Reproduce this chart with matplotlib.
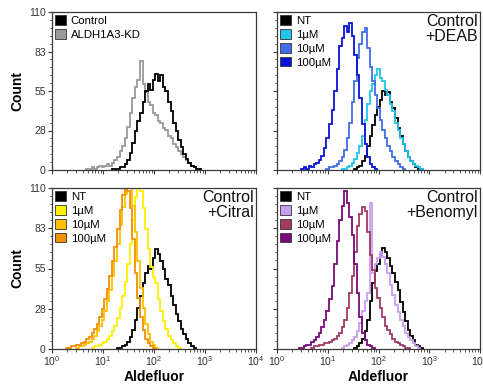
import numpy as np
import matplotlib
matplotlib.use("Agg")
import matplotlib.pyplot as plt
from matplotlib.patches import Patch
from matplotlib.ticker import FixedLocator, MultipleLocator, LogLocator, NullFormatter

plt.rcParams["font.family"] = ["Liberation Sans", "DejaVu Sans"]
plt.rcParams["mathtext.fontset"] = "custom"
plt.rcParams["mathtext.rm"] = "Liberation Sans"

# Histogram bins: width in log10 units; each series = first bin centre (log10) + counts
BIN = 0.05

# --- Panel A: Control vs ALDH1A3-KD ---
ctrl_start = 1.20
ctrl_counts = [1, 1, 1, 2, 2, 4, 7, 12, 19, 27, 34, 40, 47, 55, 60, 56, 63, 67, 62, 66,
               58, 55, 47, 41, 33, 27, 21, 16, 11, 8, 5, 3, 2, 1, 1]
kd_start = 0.70
kd_counts = [1, 1, 2, 1, 2, 3, 2, 3, 4, 3, 5, 7, 9, 13, 17, 22, 30, 40, 50, 58,
             63, 76, 60, 54, 47, 45, 40, 38, 34, 33, 29, 28, 24, 22, 18, 16, 13, 11, 9, 7,
             5, 3, 2, 1, 1]

# --- Panel B: DEAB ---
deab_nt_start = 1.55
deab_nt_counts = [1, 2, 3, 6, 10, 17, 24, 31, 38, 44, 49, 55, 52, 54, 47, 43, 36, 29, 24, 18,
                  13, 9, 6, 4, 2, 1, 1]
deab_1_start = 1.30
deab_1_counts = [1, 1, 2, 3, 5, 8, 12, 17, 24, 35, 46, 55, 60, 66, 70, 64, 62, 56, 52, 46,
                 41, 33, 28, 22, 18, 13, 9, 6, 4, 3, 2, 1]
deab_10_start = 1.00
deab_10_counts = [1, 2, 2, 3, 4, 6, 9, 14, 22, 33, 47, 62, 78, 88, 96, 99, 85, 72, 62, 52,
                  43, 35, 28, 22, 17, 13, 9, 6, 4, 2, 1]
deab_100_start = 0.50
deab_100_counts = [1, 2, 1, 3, 2, 4, 5, 7, 10, 15, 22, 32, 42, 55, 70, 86, 92, 100, 96, 102,
                   93, 80, 66, 50, 32, 18, 9, 4, 2, 1]

# --- Panel C: Citral ---
cit_nt_start = 1.30
cit_nt_counts = [1, 1, 2, 3, 5, 8, 13, 20, 28, 36, 45, 52, 57, 55, 62, 68, 65, 60, 55, 48,
                 44, 36, 30, 24, 19, 14, 10, 7, 4, 2, 1]
cit_1_start = 0.80
cit_1_counts = [1, 2, 2, 3, 4, 5, 7, 9, 12, 16, 21, 28, 36, 46, 58, 72, 88, 104, 118, 108,
                96, 82, 68, 56, 49, 45, 34, 26, 19, 14, 9, 6, 4, 2, 1]
cit_10_start = 0.50
cit_10_counts = [1, 2, 2, 3, 4, 5, 7, 9, 12, 16, 20, 26, 33, 40, 50, 60, 72, 85, 97, 106,
                 114, 110, 98, 80, 60, 42, 28, 17, 10, 5, 3, 1]
cit_100_start = 0.30
cit_100_counts = [1, 1, 2, 2, 3, 3, 4, 5, 7, 8, 11, 14, 17, 22, 27, 34, 41, 50, 60, 70,
                  82, 95, 105, 116, 108, 96, 75, 52, 35, 22, 13, 7, 4, 2, 1]

# --- Panel D: Benomyl ---
ben_nt_start = 1.55
ben_nt_counts = [1, 2, 4, 7, 12, 20, 33, 45, 53, 58, 64, 69, 66, 62, 57, 52, 46, 40, 32, 25,
                 19, 13, 9, 6, 3, 2, 1]
ben_1_start = 1.30
ben_1_counts = [1, 2, 3, 4, 6, 8, 12, 18, 26, 33, 38, 100, 52, 58, 62, 66, 63, 58, 52, 44,
                37, 30, 25, 20, 16, 11, 8, 6, 4, 2, 1]
ben_10_start = 0.70
ben_10_counts = [1, 2, 2, 3, 3, 4, 4, 5, 6, 7, 9, 11, 15, 20, 28, 38, 50, 66, 84, 92,
                 97, 94, 80, 64, 54, 42, 35, 28, 22, 16, 13, 10, 7, 5, 4, 3, 2, 1, 1]
ben_100_start = 0.45
ben_100_counts = [1, 1, 2, 3, 3, 5, 6, 8, 11, 15, 20, 26, 34, 43, 58, 74, 88, 98, 108, 100,
                  90, 78, 58, 38, 22, 11, 6, 3, 2, 1]

conc_labels = ["NT", "1µM", "10µM", "100µM"]
y_ticks = [0, 27.5, 55, 82.5, 110]
y_ticklabels = ["0", "28", "55", "83", "110"]
x_label = "Aldefluor"
y_label = "Count"

panels = [
    dict(series=[(kd_start, kd_counts, "#999999"),
                 (ctrl_start, ctrl_counts, "#000000")],
         legend=[("Control", "#000000"), ("ALDH1A3-KD", "#999999")],
         title=None),
    dict(series=[(deab_nt_start, deab_nt_counts, "#000000"),
                 (deab_1_start, deab_1_counts, "#22c4ea"),
                 (deab_10_start, deab_10_counts, "#3f6ee8"),
                 (deab_100_start, deab_100_counts, "#0a14d8")],
         legend=list(zip(conc_labels, ["#000000", "#22c4ea", "#3f6ee8", "#0a14d8"])),
         title="Control\n+DEAB"),
    dict(series=[(cit_nt_start, cit_nt_counts, "#000000"),
                 (cit_1_start, cit_1_counts, "#fff000"),
                 (cit_10_start, cit_10_counts, "#ffc000"),
                 (cit_100_start, cit_100_counts, "#f59000")],
         legend=list(zip(conc_labels, ["#000000", "#fff000", "#ffc000", "#f59000"])),
         title="Control\n+Citral"),
    dict(series=[(ben_nt_start, ben_nt_counts, "#000000"),
                 (ben_1_start, ben_1_counts, "#c9a0f0"),
                 (ben_10_start, ben_10_counts, "#a23a66"),
                 (ben_100_start, ben_100_counts, "#7a0a7c")],
         legend=list(zip(conc_labels, ["#000000", "#c9a0f0", "#a23a66", "#7a0a7c"])),
         title="Control\n+Benomyl"),
]

W, H = 483, 390
fig = plt.figure(figsize=(W / 100, H / 100), dpi=100)

# axes boxes in pixels: left, right, top, bottom
boxes = [(52, 256, 12, 170), (277, 480, 12, 170),
         (52, 256, 188, 349), (277, 480, 188, 349)]

for i, (p, (l, r, t, b)) in enumerate(zip(panels, boxes)):
    ax = fig.add_axes([l / W, 1 - b / H, (r - l) / W, (b - t) / H])
    ax.set_xscale("log")
    ax.set_xlim(1, 1e4)
    ax.set_ylim(0, 110)
    for start, counts, color in p["series"]:
        counts = np.asarray(counts, dtype=float)
        lo = start - BIN / 2
        edges = 10 ** (lo + BIN * np.arange(len(counts) + 1))
        ax.stairs(counts, edges, baseline=0, color=color, lw=1.3)

    for s in ax.spines.values():
        s.set_color("#3a3a3a")
        s.set_linewidth(0.9)

    ax.yaxis.set_major_locator(FixedLocator(y_ticks))
    ax.yaxis.set_minor_locator(MultipleLocator(5.5))
    ax.xaxis.set_major_locator(LogLocator(base=10, numticks=10))
    ax.xaxis.set_minor_locator(LogLocator(base=10, subs=np.arange(2, 10), numticks=20))
    ax.xaxis.set_minor_formatter(NullFormatter())
    ax.tick_params(which="major", direction="out", length=3, width=0.8,
                   colors="#3a3a3a", labelsize=7.5, labelcolor="#333333", pad=1.5)
    ax.tick_params(axis="x", which="major", pad=0.5)
    ax.tick_params(which="minor", direction="out", length=1.8, width=0.6, colors="#3a3a3a")

    if i in (0, 2):
        ax.set_yticklabels(y_ticklabels)
        ax.set_ylabel(y_label, fontsize=10, fontweight="bold", labelpad=3)
    else:
        ax.set_yticklabels([])
    if i in (2, 3):
        ax.set_xlabel(x_label, fontsize=10, fontweight="bold", labelpad=2)
    else:
        ax.set_xticklabels([])

    handles = [Patch(facecolor=c, edgecolor="#333333", linewidth=0.6, label=lab)
               for lab, c in p["legend"]]
    ax.legend(handles=handles, loc="upper left", bbox_to_anchor=(0, 1), frameon=False,
              fontsize=8.2, handlelength=0.9, handleheight=0.9, handletextpad=0.45,
              labelspacing=0.28, borderaxespad=0.1, borderpad=0.2)

    if p["title"]:
        ax.text(0.988, 0.99, p["title"], transform=ax.transAxes, ha="right", va="top",
                fontsize=11.5, linespacing=1.05, color="#111111")

fig.savefig("out.png", dpi=100)
